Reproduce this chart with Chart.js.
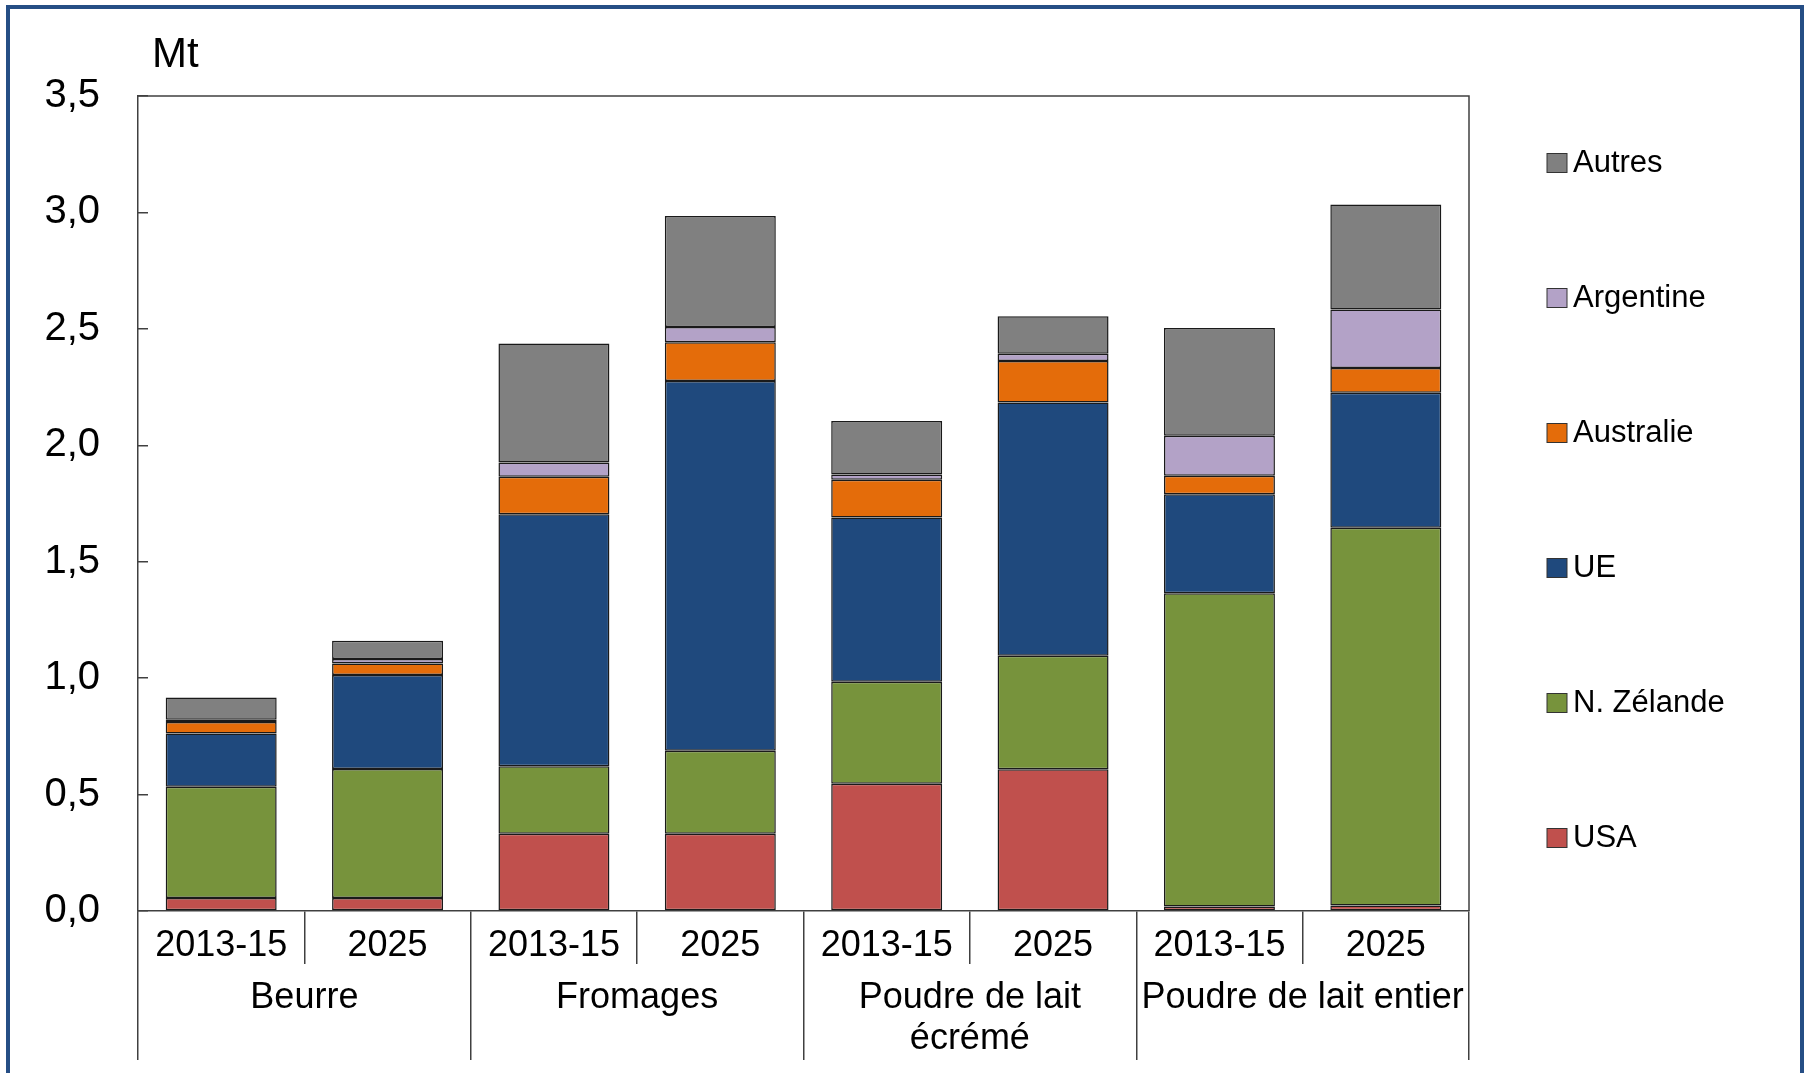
<!DOCTYPE html>
<html lang="fr">
<head>
  <meta charset="UTF-8" />
  <title>Exportations de produits laitiers</title>
  <script src="https://cdn.jsdelivr.net/npm/chart.js"></script>
  <style>
    body {
      margin: 0;
      background: #ffffff;
      overflow: hidden;
    }
    .cadre {
      position: relative;
      width: 1808px;
      height: 1073px;
    }
    .bordure {
      position: absolute;
      left: 6px;
      top: 5px;
      width: 1790px;
      height: 1100px;
      border: 4.5px solid #254E85;
      border-bottom: none;
      pointer-events: none;
    }
    canvas {
      position: absolute;
      left: 0;
      top: 0;
    }
  </style>
</head>
<body>
  <div class="cadre">
    <canvas id="graphique" width="1808" height="1073"></canvas>
    <div class="bordure"></div>
  </div>

  <script>
    const annees = ['2013-15', '2025', '2013-15', '2025', '2013-15', '2025', '2013-15', '2025'];
    const produits = ['Beurre', 'Fromages', ['Poudre de lait', 'écrémé'], 'Poudre de lait entier'];

    // Mt, de bas en haut de chaque barre
    const usa       = [0.056, 0.056, 0.332, 0.332, 0.547, 0.609, 0.019, 0.024];
    const nzelande  = [0.478, 0.554, 0.290, 0.356, 0.437, 0.487, 1.346, 1.622];
    const ue        = [0.228, 0.404, 1.082, 1.588, 0.706, 1.088, 0.425, 0.580];
    const australie = [0.050, 0.049, 0.161, 0.167, 0.162, 0.178, 0.079, 0.106];
    const argentine = [0.009, 0.019, 0.061, 0.065, 0.023, 0.031, 0.172, 0.251];
    const autres    = [0.096, 0.079, 0.511, 0.477, 0.229, 0.161, 0.463, 0.451];

    const series = [
      { nom: 'USA', valeurs: usa, couleur: '#C0504D' },
      { nom: 'N. Zélande', valeurs: nzelande, couleur: '#77933C' },
      { nom: 'UE', valeurs: ue, couleur: '#1F497D' },
      { nom: 'Australie', valeurs: australie, couleur: '#E46C0A' },
      { nom: 'Argentine', valeurs: argentine, couleur: '#B3A2C7' },
      { nom: 'Autres', valeurs: autres, couleur: '#808080' }
    ];

    const police = 'Liberation Sans, Arial, sans-serif';
    const gris = '#404040';

    // cadre du graphique, unité et légende à droite
    const decor = {
      id: 'decor',
      afterDraw(chart) {
        const ctx = chart.ctx;
        const a = chart.chartArea;
        ctx.save();
        ctx.strokeStyle = gris;
        ctx.lineWidth = 1.5;
        ctx.beginPath();
        ctx.moveTo(a.left, a.top);
        ctx.lineTo(a.right, a.top);
        ctx.lineTo(a.right, a.bottom);
        ctx.stroke();

        ctx.fillStyle = '#000';
        ctx.font = '42px ' + police;
        ctx.textBaseline = 'middle';
        ctx.textAlign = 'left';
        ctx.fillText('Mt', 152, 55);

        ctx.font = '31px ' + police;
        const ds = chart.data.datasets;
        for (let i = 0; i < ds.length; i++) {
          const d = ds[ds.length - 1 - i];
          const y = 163 + i * 135;
          ctx.fillStyle = d.backgroundColor;
          ctx.fillRect(1547, y - 9.5, 20, 19);
          ctx.strokeStyle = '#333';
          ctx.lineWidth = 1;
          ctx.strokeRect(1547, y - 9.5, 20, 19);
          ctx.fillStyle = '#000';
          ctx.fillText(d.label, 1573, y);
        }
        ctx.restore();
      }
    };

    new Chart(document.getElementById('graphique'), {
      type: 'bar',
      data: {
        labels: annees,
        datasets: series.map(s => ({
          label: s.nom,
          data: s.valeurs,
          backgroundColor: s.couleur,
          borderColor: '#1a1a1a',
          borderWidth: 1.5,
          borderSkipped: false,
          barPercentage: 0.667,
          categoryPercentage: 1.0,
          xAxisID: 'x',
          yAxisID: 'y'
        }))
      },
      options: {
        responsive: false,
        animation: false,
        layout: { padding: { top: 96, left: 0, right: 339, bottom: 13 } },
        plugins: {
          legend: { display: false },
          tooltip: { enabled: false }
        },
        scales: {
          y: {
            stacked: true,
            min: 0,
            max: 3.5,
            afterFit: s => { s.width = 138; },
            ticks: {
              stepSize: 0.5,
              color: '#000',
              padding: 48,
              font: { family: police, size: 40 },
              callback: v => v.toFixed(1).replace('.', ',')
            },
            grid: { drawOnChartArea: false, tickLength: -10, color: gris, lineWidth: 1.5 },
            border: { color: gris, width: 1.5 }
          },
          x: {
            stacked: true,
            weight: 1,
            afterFit: s => { s.height = 53; },
            ticks: {
              autoSkip: false,
              maxRotation: 0,
              color: '#000',
              padding: -40,
              font: { family: police, size: 36, lineHeight: 1.2 }
            },
            grid: { offset: true, drawOnChartArea: false, tickLength: 53, color: gris, lineWidth: 1.5 },
            border: { color: gris, width: 1.5 }
          },
          x2: {
            type: 'category',
            position: 'bottom',
            labels: produits,
            offset: true,
            weight: 2,
            afterFit: s => { s.height = 96; },
            ticks: {
              autoSkip: false,
              maxRotation: 0,
              color: '#000',
              padding: -82,
              font: { family: police, size: 36, lineHeight: 1.14 }
            },
            grid: { offset: true, drawOnChartArea: false, tickLength: 96, color: gris, lineWidth: 1.5 },
            border: { display: false }
          }
        }
      },
      plugins: [decor]
    });
  </script>
</body>
</html>
